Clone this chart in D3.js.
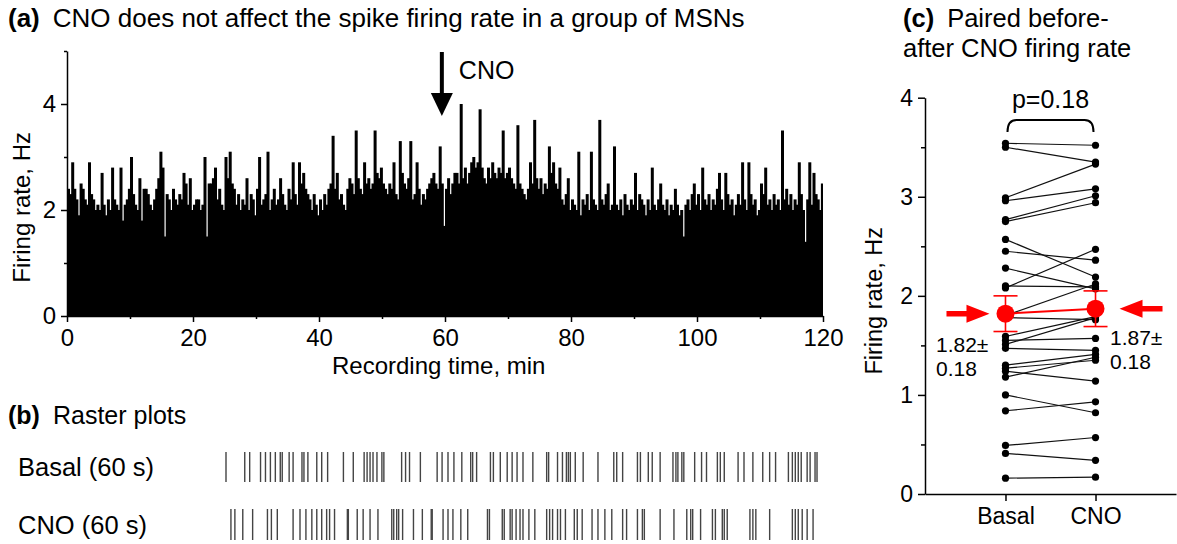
<!DOCTYPE html>
<html>
<head>
<meta charset="utf-8">
<script src="https://cdn.jsdelivr.net/npm/d3@7"></script>
<style>
  body { margin: 0; background: #fff; }
  svg { font-family: "Liberation Sans", Arial, sans-serif; }
  .axis path, .axis line { stroke: #000; stroke-width: 1.5; }
  .axis text { fill: #000; font-family: "Liberation Sans", Arial, sans-serif; }
</style>
</head>
<body>
<script>
// (a) firing rate histogram, 20 s bins over 120 min (Hz)
var rate_bins = [
  2.4, 2.3, 2.9, 2.4, 2.2, 1.9, 2.5, 2.4, 2.2, 2.1, 2.9, 2.3, 2.2, 2.0, 2.1, 2.0, 2.7, 2.1, 1.9, 2.2,
  2.0, 2.8, 2.2, 2.1, 2.0, 2.8, 1.8, 2.1, 2.2, 2.4, 3.0, 2.3, 2.1, 2.0, 2.6, 1.8, 2.4, 2.4, 2.3, 2.1,
  2.0, 2.2, 2.4, 2.6, 3.1, 2.8, 1.5, 2.3, 2.2, 2.0, 2.4, 2.2, 2.1, 2.3, 2.2, 2.7, 2.5, 2.1, 2.6, 2.0,
  2.1, 2.2, 2.2, 2.0, 2.1, 3.0, 1.5, 2.5, 2.5, 2.6, 2.8, 2.2, 2.4, 2.1, 2.0, 3.0, 2.6, 3.1, 2.5, 2.4,
  2.1, 2.3, 2.0, 2.2, 2.1, 2.6, 2.0, 2.3, 2.2, 1.9, 2.4, 3.0, 2.1, 2.2, 2.3, 3.1, 2.0, 2.2, 2.4, 2.1,
  2.2, 2.6, 2.3, 2.1, 2.0, 2.4, 2.2, 2.9, 2.3, 2.1, 2.9, 2.5, 2.7, 2.4, 2.3, 2.2, 2.0, 2.3, 2.1, 1.9,
  2.2, 2.0, 2.3, 2.1, 2.4, 2.5, 3.4, 2.4, 2.7, 2.2, 2.3, 2.1, 2.0, 2.4, 2.6, 2.5, 2.3, 3.5, 2.6, 2.4,
  2.3, 2.9, 2.5, 2.6, 2.4, 2.5, 3.5, 2.7, 2.6, 2.8, 2.5, 2.4, 2.3, 2.5, 2.4, 2.9, 2.3, 2.2, 3.3, 2.7,
  2.5, 2.4, 2.6, 3.3, 2.2, 2.3, 2.9, 2.4, 2.1, 2.3, 2.2, 2.4, 2.5, 2.6, 2.7, 2.5, 2.4, 3.2, 2.5, 1.7,
  2.4, 2.6, 2.3, 2.5, 2.7, 2.7, 2.5, 4.0, 2.6, 2.8, 2.5, 2.7, 2.9, 3.0, 2.8, 2.9, 3.9, 2.8, 2.6, 2.5,
  2.8, 2.6, 2.9, 2.7, 2.6, 2.8, 2.7, 3.5, 2.6, 2.7, 2.8, 2.6, 2.5, 2.4, 3.6, 2.5, 2.4, 2.3, 2.2, 2.4,
  2.9, 2.5, 3.7, 2.6, 2.4, 2.6, 2.3, 2.5, 2.4, 3.2, 2.7, 2.9, 2.5, 2.4, 2.8, 2.2, 2.1, 2.3, 2.6, 2.0,
  2.2, 2.1, 2.0, 3.1, 1.9, 2.2, 2.1, 2.3, 2.0, 3.1, 2.2, 2.1, 2.0, 3.7, 2.2, 2.1, 2.3, 2.5, 2.0, 2.1,
  3.2, 2.1, 2.0, 2.2, 1.9, 2.3, 2.1, 2.0, 2.2, 2.1, 2.7, 2.0, 2.3, 2.2, 2.1, 1.9, 2.2, 2.0, 2.8, 2.1,
  2.0, 2.2, 2.5, 2.1, 2.0, 2.2, 1.9, 2.1, 2.0, 2.4, 2.1, 1.9, 2.0, 1.5, 2.1, 2.2, 2.0, 2.3, 2.5, 2.1,
  2.3, 2.0, 2.8, 2.2, 2.1, 2.3, 2.0, 2.2, 2.1, 2.4, 2.7, 2.2, 2.0, 2.7, 2.3, 2.1, 2.2, 1.9, 2.1, 2.3,
  2.1, 2.9, 2.2, 2.0, 2.9, 2.3, 2.1, 2.2, 1.9, 2.0, 2.5, 2.3, 2.8, 2.1, 2.2, 2.0, 2.3, 2.1, 2.2, 2.0,
  3.5, 2.2, 2.4, 2.1, 2.3, 2.0, 2.2, 2.1, 2.9, 2.3, 2.0, 1.4, 2.2, 2.9, 2.1, 2.7, 2.3, 2.2, 2.0, 2.5
];
var bin_minutes = 1 / 3;
var cno_time = 59.5;
var hist_x_ticks = [0, 20, 40, 60, 80, 100, 120];
var hist_y_ticks = [0, 2, 4];

// (b) raster spike times, seconds
var basal_spikes = [0.0, 1.9, 2.4, 3.5, 4.0, 4.5, 5.0, 5.5, 5.7, 6.4, 6.8, 7.7, 7.9, 8.3, 9.2, 9.7, 10.3,
  11.9, 12.9, 14.0, 14.3, 14.6, 14.9, 15.3, 15.8, 16.0, 17.8, 18.2, 18.6, 19.7, 21.4, 21.9, 22.5, 23.1,
  23.9, 24.8, 25.0, 25.4, 26.8, 27.1, 27.8, 28.5, 29.0, 29.5, 30.1, 31.1, 32.5, 32.7, 33.6, 34.1, 34.5,
  34.7, 34.9, 35.4, 36.2, 37.7, 39.3, 39.6, 40.2, 41.7, 42.0, 42.8, 43.2, 44.0, 45.3, 45.6, 45.8, 46.2,
  46.4, 47.5, 48.2, 48.7, 49.8, 50.1, 50.5, 51.9, 52.5, 53.4, 54.4, 55.1, 55.7, 57.0, 57.4, 57.7, 58.0,
  58.3, 58.9, 59.2, 59.7, 59.9];
var cno_spikes = [0.5, 0.9, 1.7, 2.7, 4.2, 4.6, 5.2, 6.8, 7.5, 8.1, 8.7, 9.2, 9.7, 10.2, 10.5, 11.0,
  12.3, 12.4, 13.3, 13.9, 14.6, 15.4, 16.8, 17.0, 17.3, 17.5, 17.9, 19.0, 19.9, 20.8, 20.9, 22.0, 22.5,
  23.0, 23.8, 24.5, 26.5, 26.7, 28.0, 28.2, 28.8, 29.0, 29.4, 29.8, 30.1, 30.7, 31.3, 32.5, 32.8, 33.1,
  33.6, 33.9, 34.4, 35.3, 35.6, 36.1, 37.1, 37.7, 38.4, 39.1, 40.2, 40.6, 41.7, 42.2, 42.4, 44.0, 45.4,
  46.7, 47.1, 47.3, 48.1, 49.3, 49.6, 50.3, 50.5, 50.8, 53.1, 53.4, 53.7, 55.1, 57.4, 57.7, 58.0, 58.4,
  58.9, 59.5];

// (c) paired firing rates, Hz
var conditions = ['Basal', 'CNO'];
var basal_rates = [3.54, 3.50, 2.99, 2.96, 2.77, 2.75, 2.57, 2.45, 2.28, 2.10, 2.08, 1.80, 1.78,
  1.59, 1.55, 1.51, 1.47, 1.30, 1.27, 1.24, 1.18, 1.00, 0.84, 0.49, 0.41, 0.16];
var cno_rates = [3.52, 3.35, 3.33, 3.08, 3.01, 2.94, 2.19, 2.36, 2.07, 2.09, 2.47, 2.12, 1.76,
  1.79, 1.57, 1.78, 1.45, 1.41, 1.35, 1.14, 1.38, 0.82, 0.93, 0.57, 0.34, 0.17];
var mean_rates = [1.82, 1.87];
var sem_rates = [0.18, 0.18];
var paired_y_ticks = [0, 1, 2, 3, 4];
var p_label = 'p=0.18';

var svg = d3.select('body').append('svg')
  .attr('width', 1177)
  .attr('height', 544);

// ---------- (a) ----------
var hx = d3.scaleLinear().domain([0, 120]).range([67, 823]);
var hy = d3.scaleLinear().domain([0, 5]).range([316, 51]);
var bin_w = hx(bin_minutes) - hx(0);

svg.append('g')
  .selectAll('rect')
  .data(rate_bins)
  .enter()
  .append('rect')
    .attr('x', function(d, i) { return hx(i * bin_minutes); })
    .attr('width', function(d, i) { return i == rate_bins.length - 1 ? bin_w : bin_w + 0.9; })
    .attr('y', function(d) { return hy(d); })
    .attr('height', function(d) { return hy(0) - hy(d); })
    .attr('fill', '#000');

svg.append('g')
  .attr('class', 'axis')
  .attr('transform', 'translate(0,' + hy(0) + ')')
  .call(d3.axisBottom(hx).tickValues(hist_x_ticks).tickSize(6).tickSizeOuter(0).tickPadding(7))
  .selectAll('text').style('font-size', '24px');
svg.append('g')
  .attr('class', 'axis')
  .attr('transform', 'translate(0,' + hy(0) + ')')
  .call(d3.axisBottom(hx).tickValues([10, 30, 50, 70, 90, 110]).tickSize(3).tickFormat(''))
  .select('.domain').remove();

svg.append('g')
  .attr('class', 'axis')
  .attr('transform', 'translate(' + hx(0) + ',0)')
  .call(d3.axisLeft(hy).tickValues(hist_y_ticks).tickFormat(d3.format('d')).tickSize(6).tickSizeOuter(0).tickPadding(5))
  .selectAll('text').style('font-size', '24px');
svg.append('g')
  .attr('class', 'axis')
  .attr('transform', 'translate(' + hx(0) + ',0)')
  .call(d3.axisLeft(hy).tickValues([1, 3, 5]).tickSize(3).tickFormat(''))
  .select('.domain').remove();

svg.append('text')
  .attr('transform', 'translate(30,' + hy(2.05) + ') rotate(-90)')
  .attr('text-anchor', 'middle')
  .style('font-size', '24px')
  .text('Firing rate, Hz');

svg.append('text')
  .attr('x', hx(59))
  .attr('y', 374)
  .attr('text-anchor', 'middle')
  .style('font-size', '24px')
  .text('Recording time, min');

// CNO arrow
svg.append('line')
  .attr('x1', hx(cno_time)).attr('x2', hx(cno_time))
  .attr('y1', 52).attr('y2', 96)
  .attr('stroke', '#000')
  .attr('stroke-width', 4);
svg.append('path')
  .attr('d', 'M' + (hx(cno_time) - 11) + ',93 L' + (hx(cno_time) + 11) + ',93 L' + hx(cno_time) + ',116 Z')
  .attr('fill', '#000');
svg.append('text')
  .attr('x', hx(cno_time) + 17)
  .attr('y', 79)
  .style('font-size', '25px')
  .text('CNO');

// titles
function panelTitle(x, y, tag, txt, size) {
  var t = svg.append('text').attr('x', x).attr('y', y).style('font-size', size + 'px');
  t.append('tspan').style('font-weight', 'bold').text(tag);
  t.append('tspan').attr('dx', 13).text(txt);
}
panelTitle(8, 27, '(a)', 'CNO does not affect the spike firing rate in a group of MSNs', 26);
panelTitle(8, 424, '(b)', 'Raster plots', 25);
panelTitle(903, 27, '(c)', 'Paired before-', 25.5);
svg.append('text')
  .attr('x', 903).attr('y', 57)
  .style('font-size', '25.5px')
  .text('after CNO firing rate');

// ---------- (b) ----------
var rx = d3.scaleLinear().domain([0, 60]).range([226, 818]);
var rows = [
  { label: 'Basal (60 s)', spikes: basal_spikes, y0: 452, y1: 482 },
  { label: 'CNO (60 s)', spikes: cno_spikes, y0: 509, y1: 540 }
];
rows.forEach(function(row) {
  svg.append('text')
    .attr('x', 18)
    .attr('y', (row.y0 + row.y1) / 2 + 9)
    .style('font-size', '25.5px')
    .text(row.label);
  svg.append('g')
    .selectAll('line')
    .data(row.spikes)
    .enter()
    .append('line')
      .attr('x1', function(d) { return rx(d); })
      .attr('x2', function(d) { return rx(d); })
      .attr('y1', row.y0)
      .attr('y2', row.y1)
      .attr('stroke', '#444')
      .attr('stroke-width', 1.4);
});

// ---------- (c) ----------
var cx = d3.scalePoint().domain(conditions).range([925, 1176]).padding(0.894);
var cy = d3.scaleLinear().domain([0, 4]).range([494, 97.7]);

svg.append('g')
  .attr('class', 'axis')
  .attr('transform', 'translate(0,' + cy(0) + ')')
  .call(d3.axisBottom(cx).tickSize(7).tickSizeOuter(0).tickPadding(7))
  .selectAll('text').style('font-size', '23px');

svg.append('g')
  .attr('class', 'axis')
  .attr('transform', 'translate(925,0)')
  .call(d3.axisLeft(cy).tickValues(paired_y_ticks).tickFormat(d3.format('d')).tickSize(7).tickSizeOuter(0).tickPadding(5))
  .selectAll('text').style('font-size', '23px');
svg.append('g')
  .attr('class', 'axis')
  .attr('transform', 'translate(925,0)')
  .call(d3.axisLeft(cy).tickValues([0.5, 1.5, 2.5, 3.5]).tickSize(4).tickFormat(''))
  .select('.domain').remove();

svg.append('text')
  .attr('transform', 'translate(882,' + cy(1.95) + ') rotate(-90)')
  .attr('text-anchor', 'middle')
  .style('font-size', '23.5px')
  .text('Firing rate, Hz');

var pairs = basal_rates.map(function(b, i) { return [b, cno_rates[i]]; });

svg.append('g')
  .selectAll('line')
  .data(pairs)
  .enter()
  .append('line')
    .attr('x1', cx('Basal'))
    .attr('x2', cx('CNO'))
    .attr('y1', function(d) { return cy(d[0]); })
    .attr('y2', function(d) { return cy(d[1]); })
    .attr('stroke', '#111')
    .attr('stroke-width', 1.2);

svg.append('g')
  .selectAll('circle')
  .data(basal_rates.concat(cno_rates))
  .enter()
  .append('circle')
    .attr('cx', function(d, i) { return i < basal_rates.length ? cx('Basal') : cx('CNO'); })
    .attr('cy', function(d) { return cy(d); })
    .attr('r', 3.6)
    .attr('fill', '#000');

// mean +- sem in red
svg.append('line')
  .attr('x1', cx('Basal')).attr('x2', cx('CNO'))
  .attr('y1', cy(mean_rates[0])).attr('y2', cy(mean_rates[1]))
  .attr('stroke', 'red').attr('stroke-width', 2);

conditions.forEach(function(c, i) {
  var g = svg.append('g').attr('stroke', 'red').attr('stroke-width', 1.6);
  var lo = cy(mean_rates[i] - sem_rates[i]);
  var hi = cy(mean_rates[i] + sem_rates[i]);
  g.append('line').attr('x1', cx(c)).attr('x2', cx(c)).attr('y1', lo).attr('y2', hi);
  g.append('line').attr('x1', cx(c) - 12).attr('x2', cx(c) + 12).attr('y1', lo).attr('y2', lo);
  g.append('line').attr('x1', cx(c) - 12).attr('x2', cx(c) + 12).attr('y1', hi).attr('y2', hi);
  svg.append('circle')
    .attr('cx', cx(c)).attr('cy', cy(mean_rates[i]))
    .attr('r', 9)
    .attr('fill', 'red');
});

// red arrows pointing at the means
function redArrow(tipX, y, dir) {
  var len = 43, head = 23, hw = 9, sw = 2.7;
  var p = [
    [tipX, y],
    [tipX - dir * head, y - hw],
    [tipX - dir * head, y - sw],
    [tipX - dir * len, y - sw],
    [tipX - dir * len, y + sw],
    [tipX - dir * head, y + sw],
    [tipX - dir * head, y + hw]
  ];
  svg.append('path')
    .attr('d', 'M' + p.map(function(q) { return q.join(','); }).join('L') + 'Z')
    .attr('fill', 'red');
}
redArrow(cx('Basal') - 16, cy(mean_rates[0]), 1);
redArrow(cx('CNO') + 24, cy(mean_rates[1]), -1);

// mean labels
var mean_text = [
  { x: 936, y: 352, lines: [mean_rates[0].toFixed(2) + '±', sem_rates[0].toFixed(2)] },
  { x: 1110, y: 345, lines: [mean_rates[1].toFixed(2) + '±', sem_rates[1].toFixed(2)] }
];
mean_text.forEach(function(m) {
  m.lines.forEach(function(s, k) {
    svg.append('text')
      .attr('x', m.x).attr('y', m.y + k * 24)
      .style('font-size', '21px')
      .text(s);
  });
});

// p-value bracket
var bx0 = cx('Basal') + 2, bx1 = cx('CNO') - 2, by = 120, bl = 12;
svg.append('path')
  .attr('d', 'M' + bx0 + ',' + (by + bl) + ' Q' + bx0 + ',' + by + ' ' + (bx0 + 9) + ',' + by +
    ' L' + (bx1 - 9) + ',' + by + ' Q' + bx1 + ',' + by + ' ' + bx1 + ',' + (by + bl))
  .attr('fill', 'none')
  .attr('stroke', '#000')
  .attr('stroke-width', 2);
svg.append('text')
  .attr('x', (bx0 + bx1) / 2)
  .attr('y', 108)
  .attr('text-anchor', 'middle')
  .style('font-size', '25px')
  .text(p_label);
</script>
</body>
</html>
